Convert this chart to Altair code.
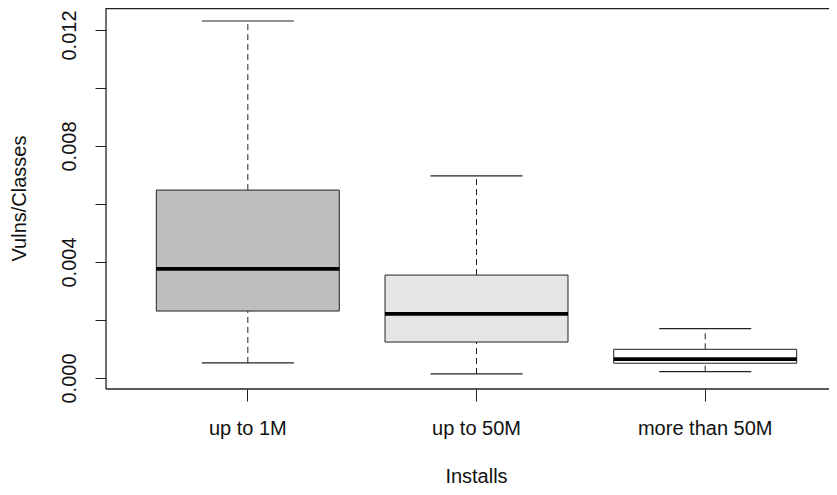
import altair as alt
import pandas as pd

categories = ["up to 1M", "up to 50M", "more than 50M"]
lower_whisker = [0.00052, 0.00014, 0.00022]
q1 = [0.00231, 0.00124, 0.00051]
median = [0.00376, 0.00221, 0.00065]
q3 = [0.00648, 0.00355, 0.00099]
upper_whisker = [0.01231, 0.00697, 0.00170]
fills = ["#bebebe", "#e5e5e5", "#ffffff"]
y_ticks = [0.0, 0.002, 0.004, 0.006, 0.008, 0.010, 0.012]

df = pd.DataFrame({
    "cat": categories,
    "lo": lower_whisker,
    "q1": q1,
    "med": median,
    "q3": q3,
    "hi": upper_whisker,
})

FONT = "Liberation Sans"
LINE = "#222222"
W = 723
H = 381

xenc = alt.X(
    "cat:N",
    sort=categories,
    scale=alt.Scale(type="band", paddingInner=0.2, paddingOuter=0.1807, align=0.609),
    axis=alt.Axis(
        title="Installs",
        domain=False,
        grid=False,
        ticks=True,
        tickSize=12,
        tickColor=LINE,
        labelAngle=0,
        labelFont=FONT,
        labelFontSize=20,
        labelColor="#111111",
        labelPadding=17,
        labelBaseline="top",
        titleFont=FONT,
        titleFontSize=20,
        titleFontWeight="normal",
        titleColor="#111111",
        titleBaseline="alphabetic",
        titleX=370,
        titleY=93,
    ),
)

yscale = alt.Scale(domain=[-0.000379, 0.012759], nice=False, zero=False)
yaxis = alt.Axis(
    title="Vulns/Classes",
    values=y_ticks,
    labelExpr="round(datum.value*1000) % 4 == 0 ? format(datum.value, '.3f') : ''",
    domain=False,
    grid=False,
    tickSize=11,
    tickColor=LINE,
    labelAngle=270,
    labelAlign="center",
    labelBaseline="alphabetic",
    labelPadding=20,
    labelOffset={"condition": {"test": "datum.value > 0.011", "value": 5}, "value": 0},
    labelFont=FONT,
    labelFontSize=20,
    labelColor="#111111",
    titleFont=FONT,
    titleFontSize=20,
    titleFontWeight="normal",
    titleColor="#111111",
    titleAngle=270,
    titleAlign="center",
    titleBaseline="alphabetic",
    titleX=-81,
    titleY=190,
)

base = alt.Chart(df)

upper_rule = base.mark_rule(color=LINE, strokeWidth=1, strokeDash=[6, 4], opacity=1).encode(
    x=xenc, y=alt.Y("q3:Q", scale=yscale, axis=yaxis), y2="hi:Q"
)
lower_rule = base.mark_rule(color=LINE, strokeWidth=1, strokeDash=[6, 4], opacity=1).encode(
    x=xenc, y=alt.Y("lo:Q", scale=yscale, axis=yaxis), y2="q1:Q"
)
boxes = base.mark_bar(stroke=LINE, strokeWidth=1, opacity=1).encode(
    x=xenc,
    y=alt.Y("q1:Q", scale=yscale, axis=yaxis),
    y2="q3:Q",
    fill=alt.Fill("cat:N", sort=categories,
                  scale=alt.Scale(domain=categories, range=fills), legend=None),
)
med = base.mark_tick(color="#000000", thickness=3.8, size=183, orient="horizontal",
                     opacity=1).encode(
    x=xenc, y=alt.Y("med:Q", scale=yscale, axis=yaxis)
)
cap_hi = base.mark_tick(color=LINE, thickness=1.2, size=92, orient="horizontal",
                        opacity=1).encode(
    x=xenc, y=alt.Y("hi:Q", scale=yscale, axis=yaxis)
)
cap_lo = base.mark_tick(color=LINE, thickness=1.2, size=92, orient="horizontal",
                        opacity=1).encode(
    x=xenc, y=alt.Y("lo:Q", scale=yscale, axis=yaxis)
)

frame_src = alt.Chart(pd.DataFrame({"k": [0]}))
frame_top = frame_src.mark_rule(color=LINE, strokeWidth=1.3).encode(
    x=alt.value(0), x2=alt.value(W), y=alt.value(0.7)
)
frame_left = frame_src.mark_rule(color=LINE, strokeWidth=1.3).encode(
    x=alt.value(0), y=alt.value(0), y2=alt.value(H)
)
frame_bottom = frame_src.mark_rule(color=LINE, strokeWidth=1.3).encode(
    x=alt.value(0), x2=alt.value(W), y=alt.value(H)
)

chart = alt.layer(
    upper_rule, lower_rule, boxes, med, cap_hi, cap_lo,
    frame_top, frame_left, frame_bottom,
).properties(
    width=W,
    height=H,
    padding={"left": 98, "top": 0, "right": 0, "bottom": 98},
    autosize=alt.AutoSizeParams(type="none"),
    background="white",
).configure_view(stroke=None)

chart.save("out.html", embed_options={"renderer": "svg", "actions": False})
